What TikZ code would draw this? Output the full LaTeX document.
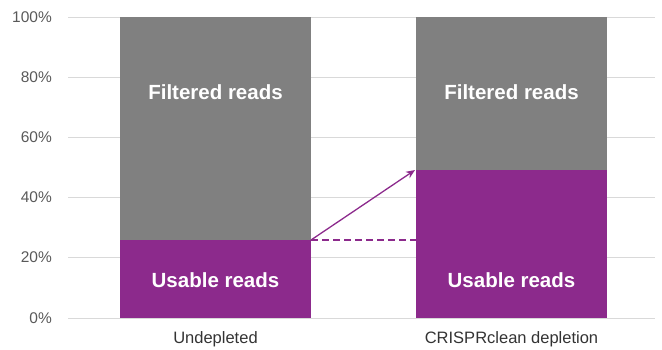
\documentclass[tikz,border=0pt]{standalone}
\usepackage{fontspec}
\setmainfont{Liberation Sans}
\usetikzlibrary{arrows.meta}
\definecolor{barpurple}{RGB}{140,42,140}
\definecolor{bargrey}{RGB}{128,128,128}
\definecolor{gridgrey}{RGB}{217,217,217}
\definecolor{ticktext}{RGB}{89,89,89}
\tikzset{
  gridline/.style={draw=gridgrey, line width=0.8pt},
  ticklabel/.style={anchor=east, text=ticktext, font=\fontsize{15.5}{17}\selectfont, inner sep=0pt},
  catlabel/.style={anchor=center, text=black!80, font=\fontsize{16.5}{18}\selectfont, inner sep=0pt},
  barlabel/.style={anchor=center, text=white, font=\bfseries\fontsize{20.5}{23}\selectfont, inner sep=0pt},
  greybar/.style={fill=bargrey, draw=none},
  purplebar/.style={fill=barpurple, draw=none},
  growth/.style={draw=barpurple, line width=1.3pt, -{Stealth[length=9pt,width=7.5pt]}},
  baseline20/.style={draw=barpurple, line width=1.5pt, dash pattern=on 7pt off 4pt},
}
\begin{document}
\begin{tikzpicture}[x=1pt,y=-1pt]
\useasboundingbox (0,0) rectangle (662,349);
% gridlines and tick labels
\foreach \v/\yy in {100/17,80/77,60/137,40/197,20/257,0/318}{
  \draw[gridline] (68,\yy) -- (655,\yy);
  \node[ticklabel] at (52,\yy) {\v\%};
}
% bar 1
\fill[greybar] (120,17) rectangle (311,240);
\fill[purplebar] (120,240) rectangle (311,318);
% bar 2
\fill[greybar] (416,17) rectangle (607,170);
\fill[purplebar] (416,170) rectangle (607,318);
\node[barlabel] (f1) at (215.5,92) {Filtered reads};
\node[barlabel] (u1) at (215.5,280) {Usable reads};
\node[barlabel] (f2) at (511.5,92) {Filtered reads};
\node[barlabel] (u2) at (511.5,280) {Usable reads};
\coordinate (a) at (311,240);
\coordinate (b) at (415,170);
\coordinate (c) at (416,240);
\draw[baseline20] (a) -- (c);
\draw[growth] (a) -- (b);
\node[catlabel] (c1) at (215.5,339) {Undepleted};
\node[catlabel] (c2) at (511.5,339) {CRISPRclean depletion};
\end{tikzpicture}
\end{document}
